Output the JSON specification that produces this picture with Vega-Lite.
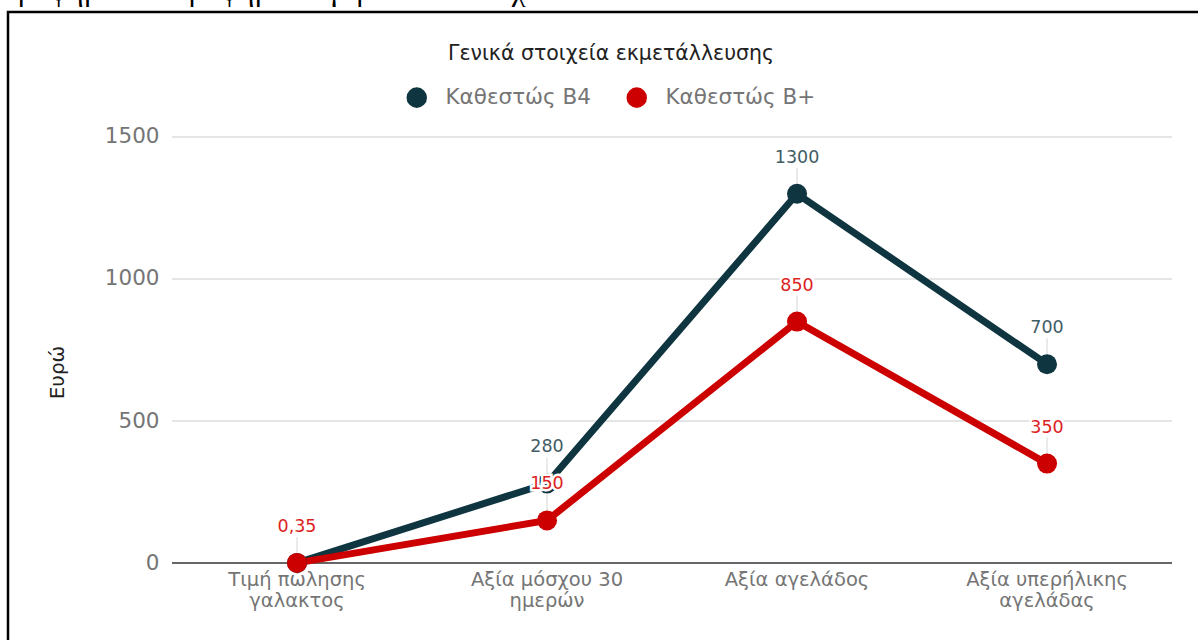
{
  "$schema": "https://vega.github.io/schema/vega-lite/v6.json",
  "width": 1202,
  "height": 648,
  "autosize": {"type": "none"},
  "padding": {"left": 8, "top": 12, "right": 0, "bottom": 0},
  "background": "white",
  "config": {
    "font": "DejaVu Sans",
    "view": {"stroke": "black", "strokeWidth": 2.5},
    "locale": {"number": {"decimal": ",", "thousands": "", "grouping": [3], "currency": ["", " €"]}}
  },
  "title": {
    "text": "Γράφημα 1.1 Γράφημα συγκριτικών στοιχείων του Πίνακα 1.1",
    "anchor": "start",
    "frame": "group",
    "font": "Liberation Serif",
    "fontSize": 31,
    "fontWeight": "normal",
    "color": "black",
    "baseline": "alphabetic",
    "offset": 0,
    "dx": -8,
    "dy": 19
  },
  "data": {
    "values": [
      {"category": "Τιμή πώλησης γαλακτος", "series": "Καθεστώς Β4", "value": 0.35},
      {"category": "Αξία μόσχου 30 ημερών", "series": "Καθεστώς Β4", "value": 280},
      {"category": "Αξία αγελάδος", "series": "Καθεστώς Β4", "value": 1300},
      {"category": "Αξία υπερήλικης αγελάδας", "series": "Καθεστώς Β4", "value": 700},
      {"category": "Τιμή πώλησης γαλακτος", "series": "Καθεστώς Β+", "value": 0.35},
      {"category": "Αξία μόσχου 30 ημερών", "series": "Καθεστώς Β+", "value": 150},
      {"category": "Αξία αγελάδος", "series": "Καθεστώς Β+", "value": 850},
      {"category": "Αξία υπερήλικης αγελάδας", "series": "Καθεστώς Β+", "value": 350}
    ]
  },
  "encoding": {
    "x": {
      "field": "category",
      "type": "nominal",
      "sort": ["Τιμή πώλησης γαλακτος", "Αξία μόσχου 30 ημερών", "Αξία αγελάδος", "Αξία υπερήλικης αγελάδας"],
      "scale": {"type": "band", "paddingInner": 0, "paddingOuter": 0.404, "align": 0.812},
      "axis": {
        "orient": "bottom",
        "offset": -97,
        "domain": false,
        "ticks": false,
        "grid": false,
        "labelAngle": 0,
        "labelPadding": 7,
        "labelFont": "DejaVu Sans",
        "labelFontSize": 19.5,
        "labelColor": "#757575",
        "labelLineHeight": 21,
        "labelBaseline": "top",
        "labelExpr": "length(split(datum.label, ' ')) > 2 ? [join(slice(split(datum.label, ' '), 0, -1), ' '), peek(split(datum.label, ' '))] : datum.label",
        "title": null
      }
    },
    "y": {
      "field": "value",
      "type": "quantitative",
      "scale": {"domain": [-341.5, 1940.1], "nice": false, "zero": false},
      "axis": {
        "values": [0, 500, 1000, 1500],
        "format": "d",
        "grid": false,
        "domain": false,
        "ticks": false,
        "offset": -151,
        "labelPadding": 0,
        "labelFont": "DejaVu Sans",
        "labelFontSize": 21.5,
        "labelColor": "#757575",
        "title": "Ευρώ",
        "titleFont": "DejaVu Sans",
        "titleFontSize": 20,
        "titleFontWeight": "normal",
        "titleColor": "#222222",
        "titleAlign": "center",
        "titleBaseline": "middle",
        "titleX": -102,
        "titleY": 360
      }
    }
  },
  "layer": [
    {
      "data": {"values": [{"grid": 500}, {"grid": 1000}, {"grid": 1500}]},
      "mark": {"type": "rule", "color": "#cccccc", "strokeWidth": 1.2},
      "encoding": {
        "x": {"datum": "Τιμή πώλησης γαλακτος", "bandPosition": 0},
        "x2": {"datum": "Αξία υπερήλικης αγελάδας", "bandPosition": 1},
        "y": {"field": "grid", "type": "quantitative"}
      }
    },
    {
      "data": {"values": [{"grid": 0}]},
      "mark": {"type": "rule", "color": "#333333", "strokeWidth": 1.5},
      "encoding": {
        "x": {"datum": "Τιμή πώλησης γαλακτος", "bandPosition": 0},
        "x2": {"datum": "Αξία υπερήλικης αγελάδας", "bandPosition": 1},
        "y": {"field": "grid", "type": "quantitative"}
      }
    },
    {
      "transform": [{"filter": "!(datum.series == 'Καθεστώς Β4' && datum.value < 1)"}],
      "mark": {"type": "rule", "color": "#dddddd", "strokeWidth": 1.2, "y2Offset": -26},
      "encoding": {
        "y2": {"field": "value"}
      }
    },
    {
      "mark": {"type": "line", "strokeWidth": 7},
      "encoding": {
        "color": {
          "field": "series",
          "type": "nominal",
          "sort": ["Καθεστώς Β4", "Καθεστώς Β+"],
          "scale": {"domain": ["Καθεστώς Β4", "Καθεστώς Β+"], "range": ["#0e3540", "#cc0000"]},
          "legend": {
            "orient": "none",
            "legendX": 398,
            "legendY": 32,
            "direction": "horizontal",
            "title": "Γενικά στοιχεία εκμετάλλευσης",
            "titleLimit": 600,
            "titleAnchor": "middle",
            "titleFont": "DejaVu Sans",
            "titleFontSize": 20.5,
            "titleFontWeight": "normal",
            "titleColor": "#222222",
            "titlePadding": 22,
            "labelFont": "DejaVu Sans",
            "labelFontSize": 21.5,
            "labelLimit": 400,
            "labelColor": "#757575",
            "labelOffset": 18,
            "columnPadding": 34,
            "symbolType": "circle",
            "symbolSize": 420,
            "symbolStrokeWidth": 0,
            "symbolOpacity": 1
          }
        }
      }
    },
    {
      "mark": {"type": "circle", "size": 400, "opacity": 1},
      "encoding": {
        "color": {"field": "series", "type": "nominal"}
      }
    },
    {
      "transform": [{"filter": "!(datum.series == 'Καθεστώς Β4' && datum.value < 1)"}],
      "mark": {"type": "text", "dy": -36, "fontSize": 17.5, "font": "DejaVu Sans", "fill": "white", "stroke": "white", "strokeWidth": 5, "baseline": "middle"},
      "encoding": {
        "text": {"field": "value", "type": "quantitative", "format": "~g"}
      }
    },
    {
      "transform": [{"filter": "!(datum.series == 'Καθεστώς Β4' && datum.value < 1)"}],
      "mark": {"type": "text", "dy": -36, "fontSize": 17.5, "font": "DejaVu Sans", "baseline": "middle"},
      "encoding": {
        "text": {"field": "value", "type": "quantitative", "format": "~g"},
        "fill": {
          "field": "series",
          "type": "nominal",
          "scale": {"domain": ["Καθεστώς Β4", "Καθεστώς Β+"], "range": ["#3f5c66", "#dd2222"]},
          "legend": null
        }
      }
    }
  ]
}
